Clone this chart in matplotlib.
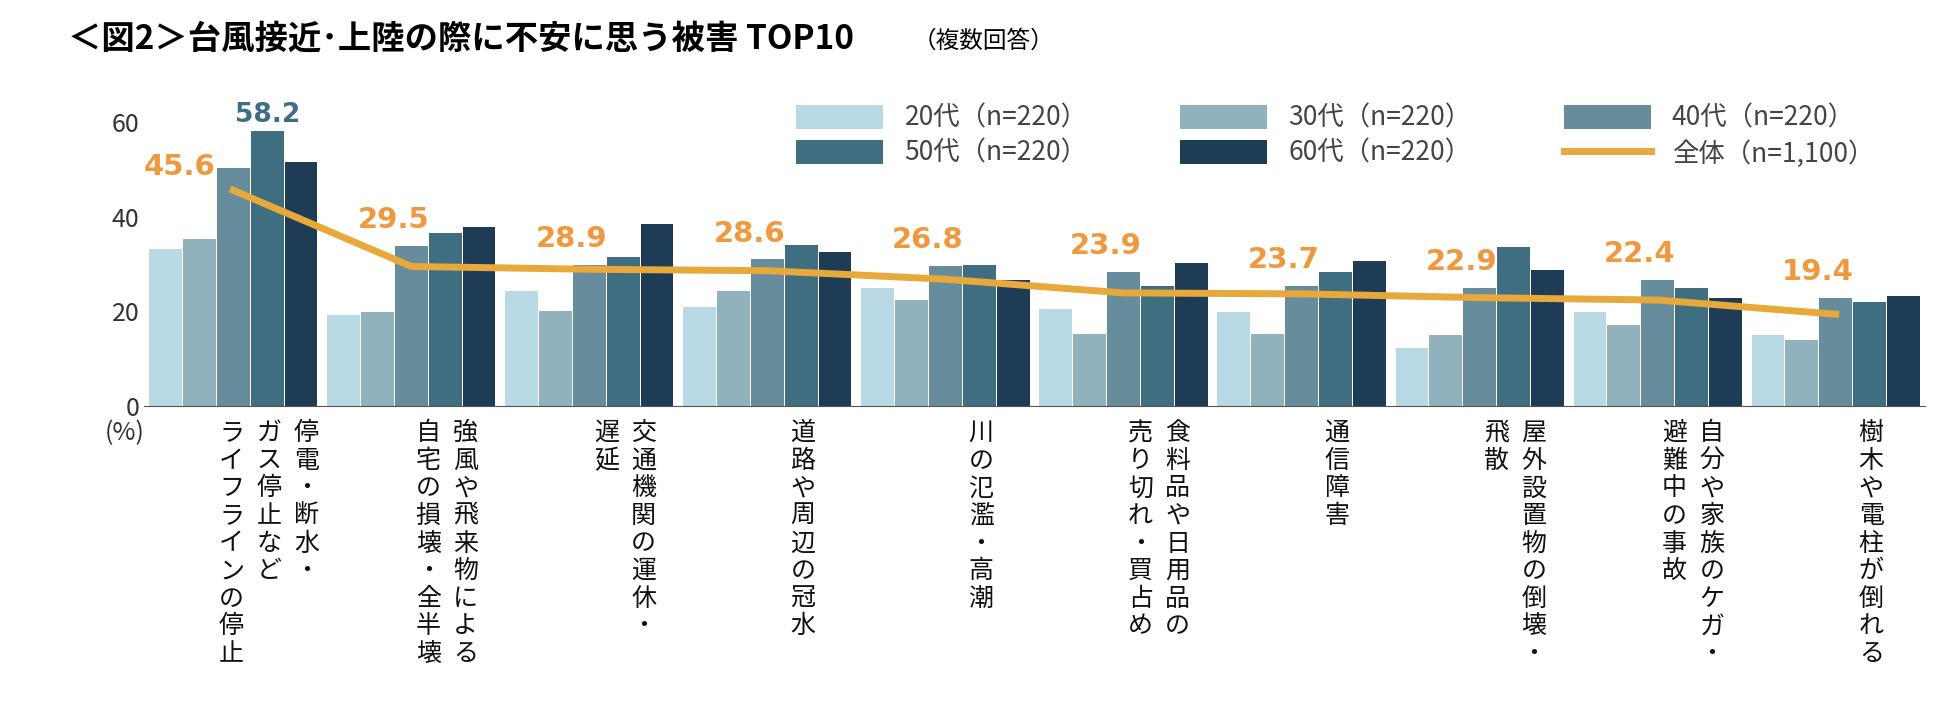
import matplotlib
matplotlib.use("Agg")
import matplotlib.pyplot as plt
import numpy as np

plt.rcParams["font.family"] = ["Noto Sans CJK JP", "DejaVu Sans"]

categories = [
    ["停電・断水・", "ガス停止など", "ライフラインの停止"],
    ["強風や飛来物による", "自宅の損壊・全半壊"],
    ["交通機関の運休・", "遅延"],
    ["道路や周辺の冠水"],
    ["川の氾濫・高潮"],
    ["食料品や日用品の", "売り切れ・買占め"],
    ["通信障害"],
    ["屋外設置物の倒壊・", "飛散"],
    ["自分や家族のケガ・", "避難中の事故"],
    ["樹木や電柱が倒れる"],
]
age20 = [33.1, 19.3, 24.3, 20.9, 24.9, 20.4, 19.8, 12.2, 19.8, 15.1]
age30 = [35.4, 19.8, 20.1, 24.3, 22.5, 15.3, 15.3, 15.1, 17.2, 14.0]
age40 = [50.3, 33.9, 29.9, 31.0, 29.6, 28.3, 25.4, 24.9, 26.7, 22.8]
age50 = [58.2, 36.5, 31.5, 34.1, 29.9, 25.4, 28.3, 33.6, 24.9, 22.0]
age60 = [51.6, 37.8, 38.4, 32.5, 26.7, 30.2, 30.7, 28.8, 22.8, 23.3]
total = [45.6, 29.5, 28.9, 28.6, 26.8, 23.9, 23.7, 22.9, 22.4, 19.4]
series_names = ["20代（n=220）", "30代（n=220）", "40代（n=220）", "50代（n=220）", "60代（n=220）"]
total_name = "全体（n=1,100）"
colors = ["#b9d9e4", "#91b1bd", "#678c9c", "#3f6e80", "#1e3c56"]

fig = plt.figure(figsize=(19.5, 7.06), dpi=100)
ax = fig.add_axes([0.074, 0.425, 0.913, 0.422])

x = np.arange(len(categories))
w = 0.19
bars = []
for i, vals in enumerate([age20, age30, age40, age50, age60]):
    bars.append(ax.bar(x + (i - 2) * w, vals, w * 0.97, color=colors[i], label=series_names[i]))
line, = ax.plot(x, total, color="#e6a93a", lw=5, label=total_name)

for xi, v in zip(x, total):
    if xi == 0:
        ax.text(xi - 0.1, 47.5, f"{v}", ha="right", va="bottom", fontsize=21,
                fontweight="bold", color="#f0983e", family=["DejaVu Sans"])
    else:
        ax.text(xi - 0.1, max(age20[xi], age30[xi], age40[xi]) + 2.5, f"{v}",
                ha="center", va="bottom", fontsize=21,
                fontweight="bold", color="#f0983e", family=["DejaVu Sans"])
ax.text(x[0] + w, age50[0] + 0.5, "58.2", ha="center", va="bottom", fontsize=19,
        fontweight="bold", color="#3f6e80", family=["DejaVu Sans"])

ax.set_xlim(-0.5, len(categories) - 0.5)
ax.set_ylim(0, 63)
ax.set_yticks([0, 20, 40, 60])
ax.tick_params(axis="y", labelsize=18, length=0, labelcolor="#333333")
ax.set_xticks([])
for s in ["top", "right", "left"]:
    ax.spines[s].set_visible(False)
ax.spines["bottom"].set_color("#555555")
ax.text(-0.5, -3, "(%)", ha="right", va="top", fontsize=18, color="#333333")

# vertical Japanese labels: first line is the rightmost column
col_w = 0.21
for xi, lines in enumerate(categories):
    n = len(lines)
    c0 = xi + 0.2
    for j, s in enumerate(lines):
        cx = c0 + ((n - 1) / 2 - j) * col_w
        ax.text(cx, -3, "\n".join(s), ha="center", va="top", fontsize=18,
                linespacing=1.08, color="#111111", clip_on=False)

handles = [bars[0], bars[3], bars[1], bars[4], bars[2], line]
labels = [h.get_label() for h in handles]
ax.legend(handles, labels, ncol=3, loc="upper right", bbox_to_anchor=(0.985, 1.09),
          frameon=False, fontsize=19, handlelength=3.3, handleheight=1.0,
          columnspacing=3.5, labelspacing=0.3, labelcolor="#444444")

fig.text(0.035, 0.945, "＜図2＞台風接近･上陸の際に不安に思う被害 TOP10", fontsize=24,
         fontweight="bold", va="center", ha="left")
fig.text(0.468, 0.942, "（複数回答）", fontsize=17, va="center", ha="left")

fig.savefig("out.png")
